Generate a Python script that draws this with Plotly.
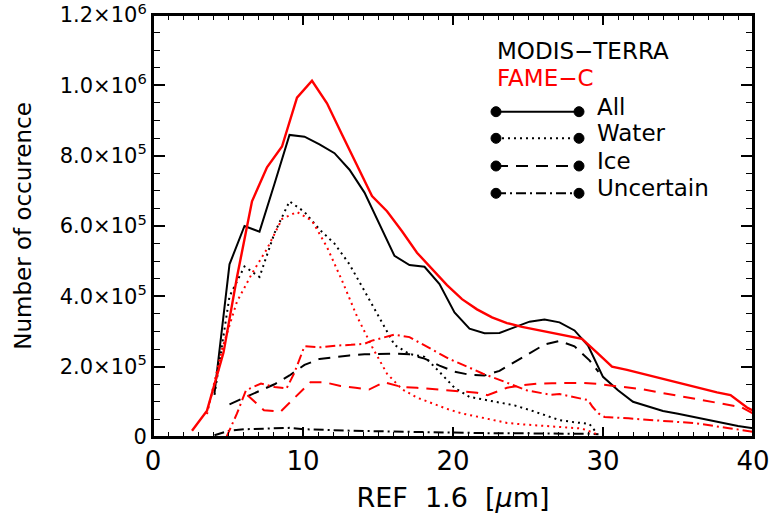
import plotly.graph_objects as go

# ---------------- data ----------------
modis_all_x = [4.1, 5.1, 6.1, 7.1, 8.1, 9.1, 10.1, 11.1, 12.1, 13.1, 14.1, 15.1, 16.1, 17.1, 18.1,
               19.1, 20.1, 21.1, 22.1, 23.1, 24.1, 25.1, 26.1, 27.1, 28.1, 29.0, 30.0, 31.0, 32.0,
               33.0, 34.0, 35.0, 36.0, 37.0, 38.0, 39.0, 40.0]
modis_all_y = [125e3, 491e3, 600e3, 584e3, 720e3, 859e3, 854e3, 832e3, 807e3, 760e3, 695e3, 603e3,
               515e3, 489e3, 484e3, 435e3, 354e3, 308e3, 295e3, 296e3, 312e3, 328e3, 334e3, 326e3,
               303e3, 260e3, 171e3, 133e3, 100e3, 88e3, 74e3, 66e3, 57e3, 48e3, 39e3, 31e3, 25e3]

modis_water_x = [4.1, 5.1, 6.1, 7.1, 8.1, 9.1, 10.1, 11.1, 12.1, 13.1, 14.1, 15.1, 16.1, 17.1, 18.1,
                 19.1, 20.1, 21.1, 22.1, 23.1, 24.1, 25.1, 26.1, 27.1, 28.1, 29.1, 29.6]
modis_water_y = [120e3, 400e3, 485e3, 455e3, 580e3, 670e3, 640e3, 590e3, 550e3, 491e3, 415e3, 340e3,
                 262e3, 236e3, 228e3, 185e3, 140e3, 114e3, 106e3, 100e3, 90e3, 77e3, 62e3, 48e3,
                 42e3, 37e3, 10e3]

modis_ice_x = [5.1, 6.1, 7.1, 8.1, 9.1, 10.1, 11.1, 12.1, 13.1, 14.1, 15.1, 16.1, 17.1, 18.1, 19.1,
               20.1, 21.1, 22.1, 23.1, 24.1, 25.1, 26.1, 27.1, 28.1, 29.1, 29.7]
modis_ice_y = [93e3, 112e3, 130e3, 150e3, 175e3, 205e3, 222e3, 228e3, 232e3, 235e3, 236e3, 237e3,
               235e3, 223e3, 203e3, 186e3, 177e3, 175e3, 188e3, 213e3, 240e3, 263e3, 273e3, 258e3,
               218e3, 185e3]

modis_unc_x = [4.1, 5.1, 6.1, 7.1, 8.1, 9.1, 10.1, 11.1, 12.1, 13.1, 14.1, 15.1, 16.1, 17.1, 18.1,
               19.1, 20.1, 21.1, 22.1, 23.1, 24.1, 25.1, 26.1, 27.1, 28.1, 29.1, 29.7]
modis_unc_y = [5e3, 18e3, 22e3, 24e3, 26e3, 26e3, 22e3, 20e3, 19e3, 18e3, 17e3, 16e3, 15e3, 14e3,
               13e3, 13e3, 12e3, 12e3, 11e3, 11e3, 11e3, 10e3, 10e3, 10e3, 10e3, 9e3, 8e3]

fame_all_x = [2.6, 3.6, 4.7, 5.6, 6.6, 7.6, 8.6, 9.6, 10.6, 11.6, 12.6, 13.6, 14.6, 15.6, 16.6,
              17.6, 18.6, 19.6, 20.6, 21.6, 22.6, 23.6, 24.6, 25.6, 26.6, 27.6, 28.6, 29.6, 30.6,
              31.6, 32.6, 33.6, 34.6, 35.6, 36.6, 37.6, 38.5, 39.6, 40.6]
fame_all_y = [18e3, 75e3, 240e3, 455e3, 670e3, 767e3, 826e3, 965e3, 1013e3, 949e3, 860e3, 772e3,
              685e3, 642e3, 585e3, 524e3, 478e3, 432e3, 392e3, 363e3, 340e3, 324e3, 313e3, 305e3,
              297e3, 289e3, 279e3, 240e3, 200e3, 191e3, 181e3, 170e3, 159e3, 148e3, 137e3, 127e3,
              119e3, 84e3, 62e3]

fame_water_x = [3.6, 4.6, 5.6, 6.6, 7.6, 8.6, 9.6, 10.6, 11.6, 12.6, 13.6, 14.6, 15.6, 16.6, 17.6,
                18.6, 19.6, 20.6, 21.6, 22.6, 23.6, 24.6, 25.6, 26.6, 27.6, 28.6, 29.6]
fame_water_y = [65e3, 250e3, 385e3, 465e3, 535e3, 620e3, 640e3, 615e3, 540e3, 445e3, 343e3, 257e3,
                180e3, 136e3, 112e3, 95e3, 80e3, 67e3, 58e3, 49e3, 40e3, 36e3, 33e3, 30e3, 27e3,
                24e3, 8e3]

fame_ice_x = [6.3, 7.4, 8.5, 9.4, 10.5, 11.4, 12.5, 13.5, 14.4, 15.4, 16.6, 17.6, 18.6, 19.6, 20.6,
              21.6, 22.3, 23.6, 24.6, 25.6, 26.6, 27.6, 28.6, 29.6, 30.6, 31.6, 32.6, 33.6, 34.6,
              35.6, 36.6, 37.6, 38.6, 39.2, 40.0]
fame_ice_y = [119e3, 76e3, 72e3, 109e3, 156e3, 156e3, 145e3, 140e3, 135e3, 156e3, 142e3, 140e3,
              137e3, 133e3, 130e3, 126e3, 119e3, 140e3, 147e3, 152e3, 153e3, 154e3, 154e3, 151e3,
              146e3, 142e3, 136e3, 128e3, 120e3, 112e3, 104e3, 96e3, 90e3, 85e3, 67e3]

fame_unc_x = [4.9, 5.6, 6.2, 7.2, 8.1, 8.9, 9.4, 10.1, 11.2, 12.2, 13.2, 14.1, 14.6, 16.1, 17.1,
              18.4, 19.7, 21.0, 22.0, 23.5, 24.9, 26.5, 27.1, 29.0, 29.3, 29.7, 30.1, 31.7, 34.0,
              36.2, 38.4, 40.0]
fame_unc_y = [0, 67e3, 133e3, 152e3, 142e3, 138e3, 180e3, 258e3, 255e3, 260e3, 262e3, 265e3, 274e3,
              291e3, 284e3, 253e3, 223e3, 199e3, 180e3, 156e3, 133e3, 120e3, 122e3, 105e3, 86e3,
              67e3, 57e3, 53e3, 46e3, 39e3, 25e3, 15e3]

x_tick_vals = [0, 10, 20, 30, 40]
y_tick_vals = [0, 2e5, 4e5, 6e5, 8e5, 1e6, 1.2e6]
y_tick_text = ["0", "2.0×10<sup>5</sup>", "4.0×10<sup>5</sup>", "6.0×10<sup>5</sup>",
               "8.0×10<sup>5</sup>", "1.0×10<sup>6</sup>", "1.2×10<sup>6</sup>"]

legend_labels = ["All", "Water", "Ice", "Uncertain"]

# ---------------- styles ----------------
BLACK = "#000000"
RED = "#ff0000"
DASH = {"All": "solid", "Water": "2px,4px", "Ice": "12px,8px", "Uncertain": "10px,4px,2px,4px"}
FONT = "DejaVu Sans"

fig = go.Figure()

series = [
    (modis_all_x, modis_all_y, BLACK, "All", 2),
    (modis_water_x, modis_water_y, BLACK, "Water", 2),
    (modis_ice_x, modis_ice_y, BLACK, "Ice", 2),
    (modis_unc_x, modis_unc_y, BLACK, "Uncertain", 2),
    (fame_all_x, fame_all_y, RED, "All", 2.4),
    (fame_water_x, fame_water_y, RED, "Water", 2),
    (fame_ice_x, fame_ice_y, RED, "Ice", 2),
    (fame_unc_x, fame_unc_y, RED, "Uncertain", 2),
]
for xs, ys, col, kind, w in series:
    fig.add_trace(go.Scatter(x=xs, y=ys, mode="lines",
                             line=dict(color=col, width=w, dash=DASH[kind]),
                             showlegend=False, hoverinfo="skip"))

# ---------------- custom legend (paper coords) ----------------
L, R, T, B = 153, 753, 15, 437.0
def px(x):
    return (x - L) / (R - L)
def py(y):
    return (B - y) / (B - T)

shapes = [dict(type="rect", xref="paper", yref="paper", x0=0, x1=1, y0=0, y1=1,
               line=dict(color=BLACK, width=2), fillcolor="rgba(0,0,0,0)", layer="above")]
annotations = []
annotations.append(dict(x=px(495), y=py(51), xref="paper", yref="paper", text="MODIS−TERRA",
                        showarrow=False, xanchor="left", yanchor="middle",
                        font=dict(family=FONT, size=23, color=BLACK)))
annotations.append(dict(x=px(495), y=py(78), xref="paper", yref="paper", text="FAME−C",
                        showarrow=False, xanchor="left", yanchor="middle",
                        font=dict(family=FONT, size=23, color=RED)))
row_y = [111.7, 138.3, 166.0, 193.3]
for lab, ry in zip(legend_labels, row_y):
    shapes.append(dict(type="line", xref="paper", yref="paper",
                       x0=px(496), x1=px(579), y0=py(ry), y1=py(ry),
                       line=dict(color=BLACK, width=2, dash=DASH[lab])))
    for cx in (496, 579):
        shapes.append(dict(type="circle", xref="paper", yref="paper",
                           x0=px(cx - 5), x1=px(cx + 5), y0=py(ry + 5), y1=py(ry - 5),
                           fillcolor=BLACK, line=dict(color=BLACK, width=1)))
    annotations.append(dict(x=px(595), y=py(ry - 5), xref="paper", yref="paper", text=lab,
                            showarrow=False, xanchor="left", yanchor="middle",
                            font=dict(family=FONT, size=23, color=BLACK)))

fig.update_layout(
    width=773, height=527,
    margin=dict(l=L, r=773 - R, t=T, b=527 - B, autoexpand=False),
    paper_bgcolor="white", plot_bgcolor="white",
    font=dict(family=FONT, color=BLACK, size=20),
    shapes=shapes, annotations=annotations,
    showlegend=False,
)
fig.update_xaxes(
    range=[0, 40], tickvals=x_tick_vals, ticks="inside", ticklen=10, tickwidth=1.5,
    tickcolor=BLACK, showline=True, linecolor=BLACK, linewidth=2, mirror="ticks",
    showgrid=False, zeroline=False, tickfont=dict(size=26), automargin=False,
    ticklabeloverflow="allow",
    minor=dict(dtick=1, ticks="inside", ticklen=5, tickcolor=BLACK, tickwidth=1.2, showgrid=False),
    title=dict(text="REF\u00a0\u00a01.6\u00a0\u00a0[<i>μ</i>m]", font=dict(size=27), standoff=13),
)
fig.update_yaxes(
    range=[0, 1.2e6], tickvals=y_tick_vals, ticktext=y_tick_text, ticks="inside", ticklen=12,
    tickwidth=1.5, tickcolor=BLACK, showline=True, linecolor=BLACK, linewidth=2, mirror="ticks",
    showgrid=False, zeroline=False, tickfont=dict(size=21), automargin=False,
    ticklabeloverflow="allow",
    minor=dict(dtick=5e4, ticks="inside", ticklen=7, tickcolor=BLACK, tickwidth=1.2, showgrid=False),
    title=dict(text="Number of occurence", font=dict(size=23), standoff=22),
)

fig.write_html("out.html", config={"displayModeBar": False},
               post_script="document.body.style.margin='0';document.body.style.overflow='hidden';")
